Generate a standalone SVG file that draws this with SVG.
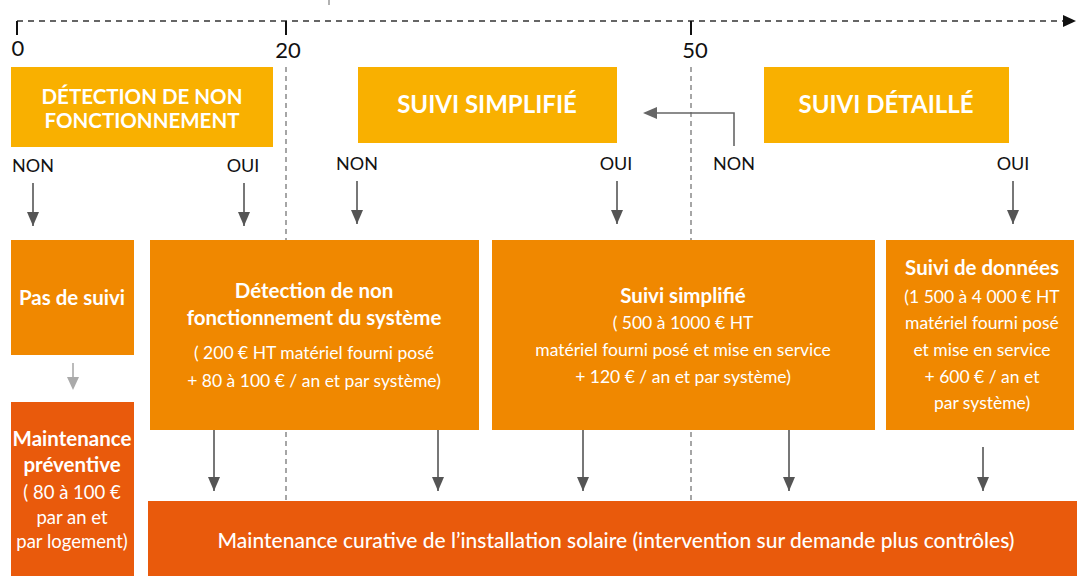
<svg xmlns="http://www.w3.org/2000/svg" width="1077" height="576" viewBox="0 0 1077 576">
<defs>
<marker id="ah" viewBox="0 0 14 12" refX="14" refY="6" markerWidth="14" markerHeight="12" markerUnits="userSpaceOnUse" orient="auto">
<path d="M0,0 L14,6 L0,12 Z" fill="#555"/>
</marker>
<style>
.yel{fill:#F9B000}
.org{fill:#F08800}
.red{fill:#E95A0C}
.hd{font-family:Lato,"Liberation Sans",sans-serif;font-weight:700;fill:#fff;text-anchor:middle}
.lb{font-family:Lato,"Liberation Sans",sans-serif;font-size:18px;fill:#111;text-anchor:middle}
.ax{font-family:Lato,"Liberation Sans",sans-serif;font-size:22px;fill:#111;text-anchor:middle}
.tb{font-family:Lato,"Liberation Sans",sans-serif;font-weight:700;font-size:20.5px;fill:#fff;text-anchor:middle}
.tr{font-family:Lato,"Liberation Sans",sans-serif;font-size:17.5px;fill:#fff;text-anchor:middle}
.dash{stroke:#777;stroke-width:1.3;stroke-dasharray:5,4;fill:none}
.arr{stroke:#555;stroke-width:1.6;fill:none}
</style>
</defs>
<g id="timeline">
<line x1="17" y1="21" x2="1064" y2="21" stroke="#333" stroke-width="1.5" stroke-dasharray="6,5"/>
<path d="M1063,15 L1076,21 L1063,27 Z" fill="#111"/>
<line x1="17" y1="21" x2="17" y2="35" stroke="#111" stroke-width="2"/>
<line x1="286" y1="21" x2="286" y2="35" stroke="#111" stroke-width="2"/>
<line x1="691" y1="21" x2="691" y2="35" stroke="#111" stroke-width="2"/>
<line x1="329" y1="0" x2="329" y2="5" stroke="#999" stroke-width="1.5"/>
<text class="ax" x="18" y="56">0</text>
<text class="ax" x="288" y="58">20</text>
<text class="ax" x="695" y="58">50</text>
<line class="dash" x1="286" y1="67" x2="286" y2="240"/>
<line class="dash" x1="691" y1="67" x2="691" y2="240"/>
<line class="dash" x1="286" y1="432" x2="286" y2="501"/>
<line class="dash" x1="691" y1="432" x2="691" y2="501"/>
</g>
<g id="n-detection-head">
<rect class="yel" x="11" y="67" width="262" height="80"/>
<text class="hd" x="142" y="104" style="font-size:20.5px">DÉTECTION DE NON</text>
<text class="hd" x="142" y="128" style="font-size:20.5px">FONCTIONNEMENT</text>
</g>
<g id="n-simplifie-head">
<rect class="yel" x="358" y="67" width="259" height="76"/>
<text class="hd" x="487" y="113" style="font-size:24px">SUIVI SIMPLIFIÉ</text>
</g>
<g id="n-detaille-head">
<rect class="yel" x="764" y="67" width="245" height="76"/>
<text class="hd" x="886" y="113" style="font-size:24px">SUIVI DÉTAILLÉ</text>
</g>
<g id="labels">
<text class="lb" x="33" y="172">NON</text>
<text class="lb" x="243" y="172">OUI</text>
<text class="lb" x="357" y="170">NON</text>
<text class="lb" x="616" y="170">OUI</text>
<text class="lb" x="734" y="170">NON</text>
<text class="lb" x="1013" y="170">OUI</text>
</g>
<g id="n-pas-de-suivi">
<rect class="org" x="11" y="240" width="123" height="115"/>
<text class="tb" x="72" y="305">Pas de suivi</text>
</g>
<g id="n-detection">
<rect class="org" x="150" y="240" width="329" height="190"/>
<text class="tb" x="314" y="298">Détection de non</text>
<text class="tb" x="314" y="325">fonctionnement du système</text>
<text class="tr" x="314" y="359">( 200 € HT matériel fourni posé</text>
<text class="tr" x="314" y="387">+ 80 à 100 € / an et par système)</text>
</g>
<g id="n-simplifie">
<rect class="org" x="492" y="240" width="383" height="190"/>
<text class="tb" x="683" y="303">Suivi simplifié</text>
<text class="tr" x="683" y="329">( 500 à 1000 € HT</text>
<text class="tr" x="683" y="356">matériel fourni posé et mise en service</text>
<text class="tr" x="683" y="383">+ 120 € / an et par système)</text>
</g>
<g id="n-donnees">
<rect class="org" x="886" y="240" width="188" height="190"/>
<text class="tb" x="982" y="275">Suivi de données</text>
<text class="tr" x="982" y="303">(1 500 à 4 000 € HT</text>
<text class="tr" x="982" y="329">matériel fourni posé</text>
<text class="tr" x="982" y="356">et mise en service</text>
<text class="tr" x="982" y="383">+ 600 € / an et</text>
<text class="tr" x="982" y="409">par système)</text>
</g>
<g id="n-preventive">
<rect class="red" x="11" y="402" width="123" height="174"/>
<text class="tb" x="72" y="446">Maintenance</text>
<text class="tb" x="72" y="472">préventive</text>
<text class="tr" x="72" y="499" style="font-size:18.5px">( 80 à 100 €</text>
<text class="tr" x="72" y="524" style="font-size:18.5px">par an et</text>
<text class="tr" x="72" y="548" style="font-size:18.5px">par logement)</text>
</g>
<g id="n-curative">
<rect class="red" x="148" y="501" width="929" height="75"/>
<text class="tr" x="616" y="548" style="font-size:21px;font-weight:500">Maintenance curative de l’installation solaire (intervention sur demande plus contrôles)</text>
</g>
<g id="connectors">
<line class="arr" x1="33" y1="183" x2="33" y2="226" marker-end="url(#ah)"/>
<line class="arr" x1="244" y1="183" x2="244" y2="226" marker-end="url(#ah)"/>
<line class="arr" x1="357" y1="181" x2="357" y2="224" marker-end="url(#ah)"/>
<line class="arr" x1="617" y1="181" x2="617" y2="224" marker-end="url(#ah)"/>
<line class="arr" x1="1013" y1="181" x2="1013" y2="224" marker-end="url(#ah)"/>
<path d="M734,146 L734,113 L655,113" stroke="#666" stroke-width="1.6" fill="none"/>
<path d="M643,113 L657,107 L657,119 Z" fill="#666"/>
<line x1="73" y1="363" x2="73" y2="378" stroke="#aaa" stroke-width="1.6"/>
<path d="M67,377 L79,377 L73,390 Z" fill="#aaa"/>
<line class="arr" x1="214" y1="430" x2="214" y2="491" marker-end="url(#ah)"/>
<line class="arr" x1="438" y1="430" x2="438" y2="491" marker-end="url(#ah)"/>
<line class="arr" x1="583" y1="430" x2="583" y2="491" marker-end="url(#ah)"/>
<line class="arr" x1="789" y1="430" x2="789" y2="491" marker-end="url(#ah)"/>
<line class="arr" x1="983" y1="447" x2="983" y2="491" marker-end="url(#ah)"/>
</g>
</svg>
